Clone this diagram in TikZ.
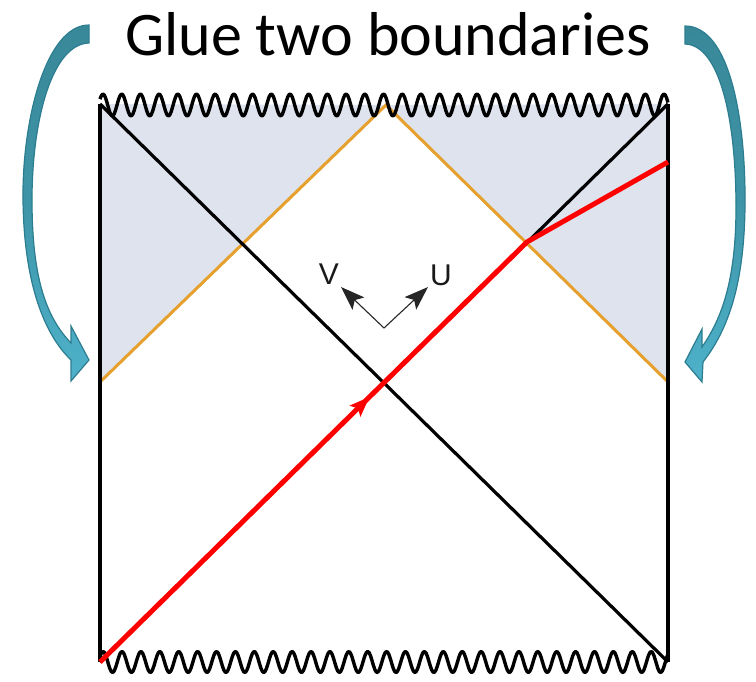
\documentclass[tikz,border=0pt]{standalone}
\usepackage{fontspec}
\setmainfont{Carlito}
\newfontfamily\arialfont{Liberation Sans}
\usetikzlibrary{arrows.meta,decorations.markings}
\definecolor{shadefill}{RGB}{222,227,238}
\definecolor{orangeline}{RGB}{230,160,45}
\definecolor{arrowtop}{RGB}{56,136,152}
\definecolor{arrowbot}{RGB}{78,178,202}
\definecolor{arrowedge}{RGB}{45,125,145}
\tikzset{
  blackln/.style={line width=3.2pt, black},
  orangeln/.style={line width=3pt, orangeline, line join=miter},
  redln/.style={line width=5pt, red, line join=round},
  waveln/.style={line width=3.4pt, black, line join=round},
  uvarrow/.style={line width=1.1pt, black!85, -{Stealth[length=24pt,width=17pt,inset=5pt]}},
  uvlabel/.style={font=\arialfont\fontsize{30}{32}\selectfont, text=black!90, anchor=base, inner sep=0pt},
  gluearrow/.style={top color=arrowtop, bottom color=arrowbot, middle color=arrowtop!70!arrowbot, draw=arrowedge, line width=1.2pt, line join=miter},
  redmark/.style={postaction={decorate}, decoration={markings, mark=at position 378pt with {\arrow{Stealth[length=20pt,width=15pt,inset=4pt]}}}}
}
\begin{document}
\begin{tikzpicture}[x=1pt,y=-1pt]
\useasboundingbox (0,0) rectangle (756,681);
% corners and key points
\coordinate (TL) at (100,104);
\coordinate (TR) at (668,104);
\coordinate (BL) at (100,662);
\coordinate (BR) at (668,662);
\coordinate (ML) at (100,382);
\coordinate (MR) at (668,382);
\coordinate (AP) at (386,105);
\coordinate (K) at (527,242);
\coordinate (RE) at (668,162);
\coordinate (O) at (384,328);
\coordinate (VT) at (341,287);
\coordinate (UT) at (428,287);
% shaded regions
\fill[shadefill] (TL) -- (ML) -- (AP) -- cycle;
\fill[shadefill] (TR) -- (MR) -- (AP) -- cycle;
% orange
\draw[orangeln] (ML) -- (AP) -- (MR);
% black lines
\draw[blackln] (TL) -- (BL);
\draw[blackln] (TR) -- (BR);
\draw[blackln] (TL) -- (BR);
\draw[blackln] (BL) -- (TR);
% wavy singularities
\draw[waveln] plot[domain=100:668, samples=400] (\x, {105 - 11*cos(19.251*(\x-103))});
\draw[waveln] plot[domain=100:668, samples=400] (\x, {662 - 10.5*cos(19.048*(\x-122))});
% red worldline
\draw[redln, redmark] (BL) -- (K) -- (RE);
% U V axes
\draw[uvarrow] (O) -- (VT);
\draw[uvarrow] (O) -- (UT);
\node[uvlabel] (V) at (329,284) {V};
\node[uvlabel] (U) at (441,285) {U};
% title
\node[font=\fontsize{62}{70}\selectfont, anchor=base, inner sep=0pt] (title) at (388,55) {Glue two boundaries};
% curved arrows
\shade[gluearrow] (89,25) .. controls (46,25) and (22,120) .. (23,200)
  .. controls (24,285) and (45,335) .. (71,360) -- (71,381) -- (89,360) -- (71,326) -- (71,343)
  .. controls (47,318) and (32,280) .. (32,200)
  .. controls (32,120) and (52,44) .. (89,43) -- cycle;
\shade[gluearrow] (685,26) .. controls (730,26) and (746,120) .. (745,207)
  .. controls (744,285) and (728,330) .. (703,362) -- (702,382) -- (685,362) -- (702,329) -- (702,347)
  .. controls (722,318) and (736,280) .. (736,207)
  .. controls (736,120) and (720,45) .. (685,44) -- cycle;
\end{tikzpicture}
\end{document}
